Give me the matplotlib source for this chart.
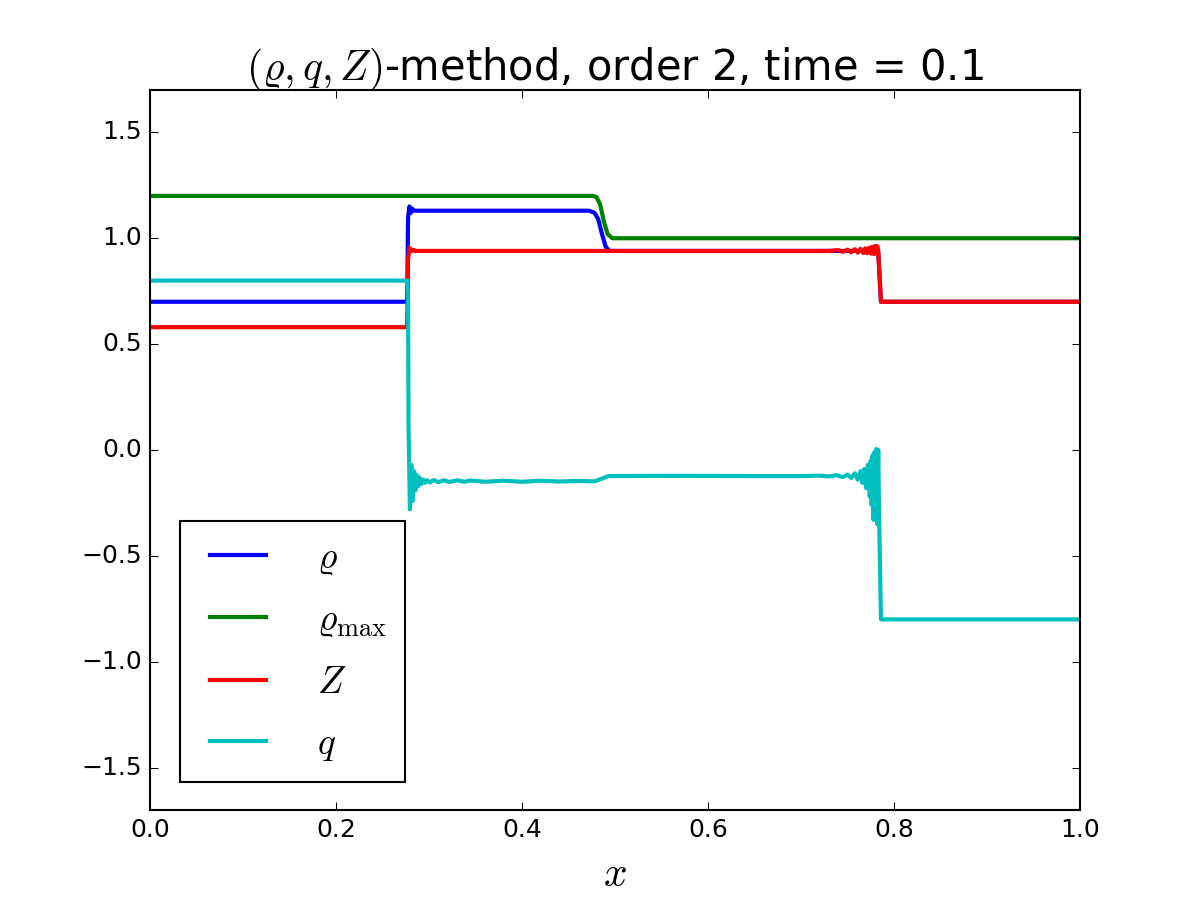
import matplotlib
matplotlib.use("Agg")
import matplotlib.pyplot as plt

plt.style.use('classic')

# rho_max
x_rmax = [0.0, 0.476, 0.480, 0.484, 0.488, 0.492, 0.497, 1.0]
y_rmax = [1.20, 1.20, 1.195, 1.16, 1.08, 1.02, 1.00, 1.00]

# rho
x_rho = [0.0, 0.2765, 0.2775, 0.279, 0.2805, 0.282, 0.284, 0.472, 0.478, 0.482, 0.486,
         0.490, 0.494, 0.783, 0.786, 1.0]
y_rho = [0.70, 0.70, 1.10, 1.15, 1.12, 1.14, 1.13, 1.13, 1.12, 1.09, 1.02,
         0.96, 0.94, 0.94, 0.70, 0.70]

# Z
x_z = [0.0, 0.2765, 0.2775, 0.279, 0.281, 0.283, 0.285, 0.730, 0.740, 0.745, 0.750,
       0.754, 0.758, 0.761, 0.764, 0.767, 0.769, 0.771, 0.773, 0.775, 0.776, 0.777,
       0.778, 0.779, 0.780, 0.781, 0.782, 0.783, 0.786, 1.0]
y_z = [0.58, 0.58, 0.90, 0.955, 0.94, 0.945, 0.94, 0.94, 0.944, 0.936, 0.946, 0.934,
       0.948, 0.932, 0.950, 0.930, 0.952, 0.929, 0.955, 0.928, 0.958, 0.927, 0.960,
       0.926, 0.963, 0.930, 0.962, 0.940, 0.70, 0.70]

# q
x_q = [0.0, 0.2765, 0.2775, 0.278, 0.2795, 0.281, 0.2825, 0.284, 0.2855, 0.287,
       0.2885, 0.290, 0.292, 0.294, 0.296, 0.298, 0.301, 0.305, 0.310, 0.316,
       0.322, 0.330, 0.338, 0.345, 0.360, 0.380, 0.400, 0.420, 0.440, 0.460,
       0.478, 0.486, 0.493, 0.560, 0.640, 0.700, 0.720, 0.730, 0.738, 0.745,
       0.750, 0.754, 0.758, 0.761, 0.764, 0.766, 0.768, 0.770, 0.772, 0.774,
       0.775, 0.776, 0.777, 0.778, 0.779, 0.780, 0.781, 0.782, 0.783, 0.784,
       0.786, 1.0]
y_q = [0.80, 0.80, 0.70, 0.10, -0.28, -0.07, -0.24, -0.10, -0.19, -0.12,
       -0.17, -0.13, -0.16, -0.14, -0.155, -0.143, -0.153, -0.142, -0.152, -0.143,
       -0.151, -0.143, -0.150, -0.144, -0.150, -0.145, -0.150, -0.145, -0.149, -0.146,
       -0.148, -0.135, -0.123, -0.122, -0.123, -0.123, -0.121, -0.125, -0.119, -0.128,
       -0.116, -0.132, -0.110, -0.140, -0.100, -0.155, -0.090, -0.180, -0.070, -0.220,
       -0.050, -0.260, -0.025, -0.330, -0.010, -0.290, 0.005, -0.350, 0.000, -0.320,
       -0.80, -0.80]

fig = plt.figure(figsize=(8, 6), dpi=150)
ax = fig.add_subplot(111)

ax.plot(x_rho, y_rho, color='b', lw=2, label=r'$\varrho$')
ax.plot(x_rmax, y_rmax, color='g', lw=2, label=r'$\varrho_{\max}$')
ax.plot(x_z, y_z, color='r', lw=2, label=r'$Z$')
ax.plot(x_q, y_q, color='c', lw=2, label=r'$q$')

ax.set_xlim(0, 1)
ax.set_ylim(-1.7, 1.7)
ax.set_xlabel(r'$x$', fontsize=20)
ax.set_title(r'$(\varrho, q, Z)$-method, order 2, time = 0.1', fontsize=20)

ax.legend(loc='lower left', bbox_to_anchor=(0.032, 0.039), borderaxespad=0,
          fontsize=18, labelspacing=0.68, handlelength=2.1, handletextpad=1.05,
          borderpad=0.5)

fig.savefig('out.png', dpi=150)
